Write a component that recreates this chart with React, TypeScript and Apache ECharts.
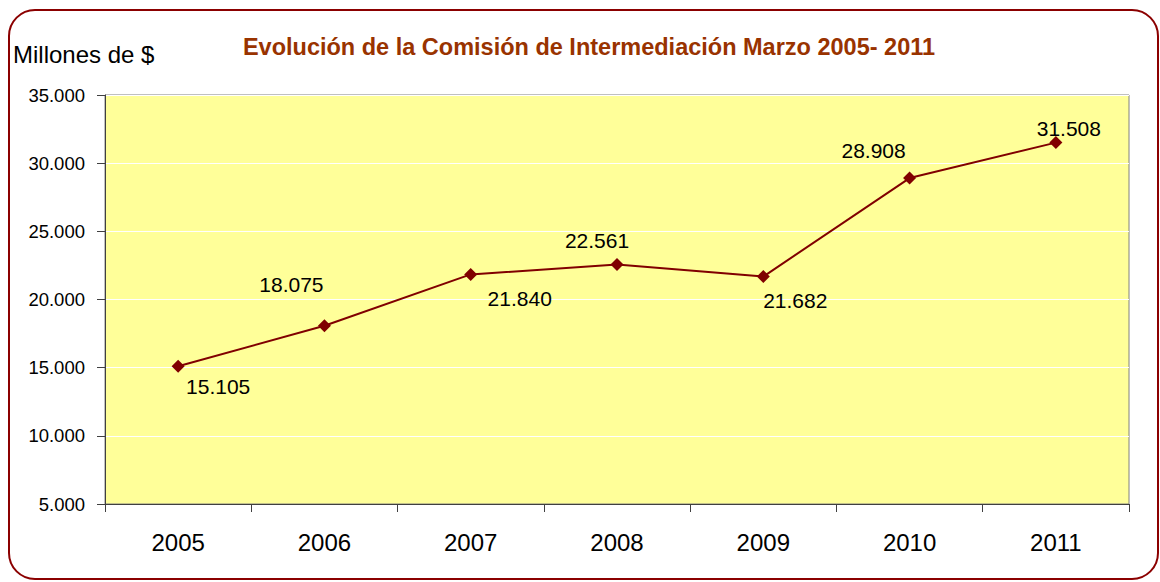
import React, { useEffect, useRef } from "react";
import * as echarts from "echarts";

const years = ["2005", "2006", "2007", "2008", "2009", "2010", "2011"];
const values = [15105, 18075, 21840, 22561, 21682, 28908, 31508];
// label offsets [dx, dy] relative to the point
const labelOffsets: [number, number][] = [
  [40, 20],
  [-33, -41],
  [49, 24],
  [-20, -24],
  [32, 24],
  [-36, -28],
  [13, -14],
];

const fmt = (v: number) => String(Math.round(v)).replace(/\B(?=(\d{3})+(?!\d))/g, ".");
const FONT = "Liberation Sans, Arial, sans-serif";

export default function App() {
  const ref = useRef<HTMLDivElement>(null);
  useEffect(() => {
    if (!ref.current) return;
    const chart = echarts.init(ref.current, null, { renderer: "svg" });
    chart.setOption({
      animation: false,
      backgroundColor: "#ffffff",
      textStyle: { fontFamily: FONT },
      title: {
        text: "Evolución de la Comisión de Intermediación Marzo 2005- 2011",
        left: 584,
        textAlign: "center",
        top: 30,
        textStyle: { color: "#993300", fontSize: 23.5, fontWeight: "bold", fontFamily: FONT },
      },
      graphic: [
        {
          type: "rect",
          shape: { x: 9, y: 10, width: 1149, height: 569, r: 26 },
          style: { fill: "none", stroke: "#8B0000", lineWidth: 2 },
          z: 100,
        },
        {
          type: "text",
          left: 13,
          top: 42,
          style: { text: "Millones de $", fontSize: 24, fill: "#000", fontFamily: FONT },
        },
      ],
      grid: {
        left: 105,
        right: 31,
        top: 95,
        bottom: 78,
        show: true,
        backgroundColor: "#FFFF99",
        borderColor: "#808080",
        borderWidth: 1,
      },
      xAxis: {
        type: "category",
        data: years,
        boundaryGap: true,
        axisLine: { show: true, lineStyle: { color: "#404040", width: 1 } },
        axisTick: { show: true, alignWithLabel: false, length: 8, lineStyle: { color: "#404040" } },
        axisLabel: { color: "#000", fontSize: 24, margin: 26 },
        splitLine: { show: false },
      },
      yAxis: {
        type: "value",
        min: 5000,
        max: 35000,
        interval: 5000,
        axisLine: { show: true, lineStyle: { color: "#404040", width: 1 } },
        axisTick: { show: true, length: 8, lineStyle: { color: "#404040" } },
        axisLabel: {
          color: "#000",
          fontSize: 18.5,
          margin: 20,
          formatter: (v: number) => fmt(v),
        },
        splitLine: { show: true, lineStyle: { color: "#ffffff", width: 1 } },
      },
      series: [
        {
          type: "line",
          data: values.map((v, i) => ({
            value: v,
            label: { offset: labelOffsets[i] },
          })),
          symbol: "diamond",
          symbolSize: 13,
          itemStyle: { color: "#800000" },
          lineStyle: { color: "#800000", width: 2 },
          label: {
            show: true,
            position: "inside",
            color: "#000",
            fontSize: 21,
            formatter: (p: any) => fmt(p.value),
          },
        },
      ],
    });
    return () => chart.dispose();
  }, []);
  return (
    <div
      ref={ref}
      style={{ position: "absolute", left: 0, top: 0, width: 1160, height: 582 }}
    />
  );
}
